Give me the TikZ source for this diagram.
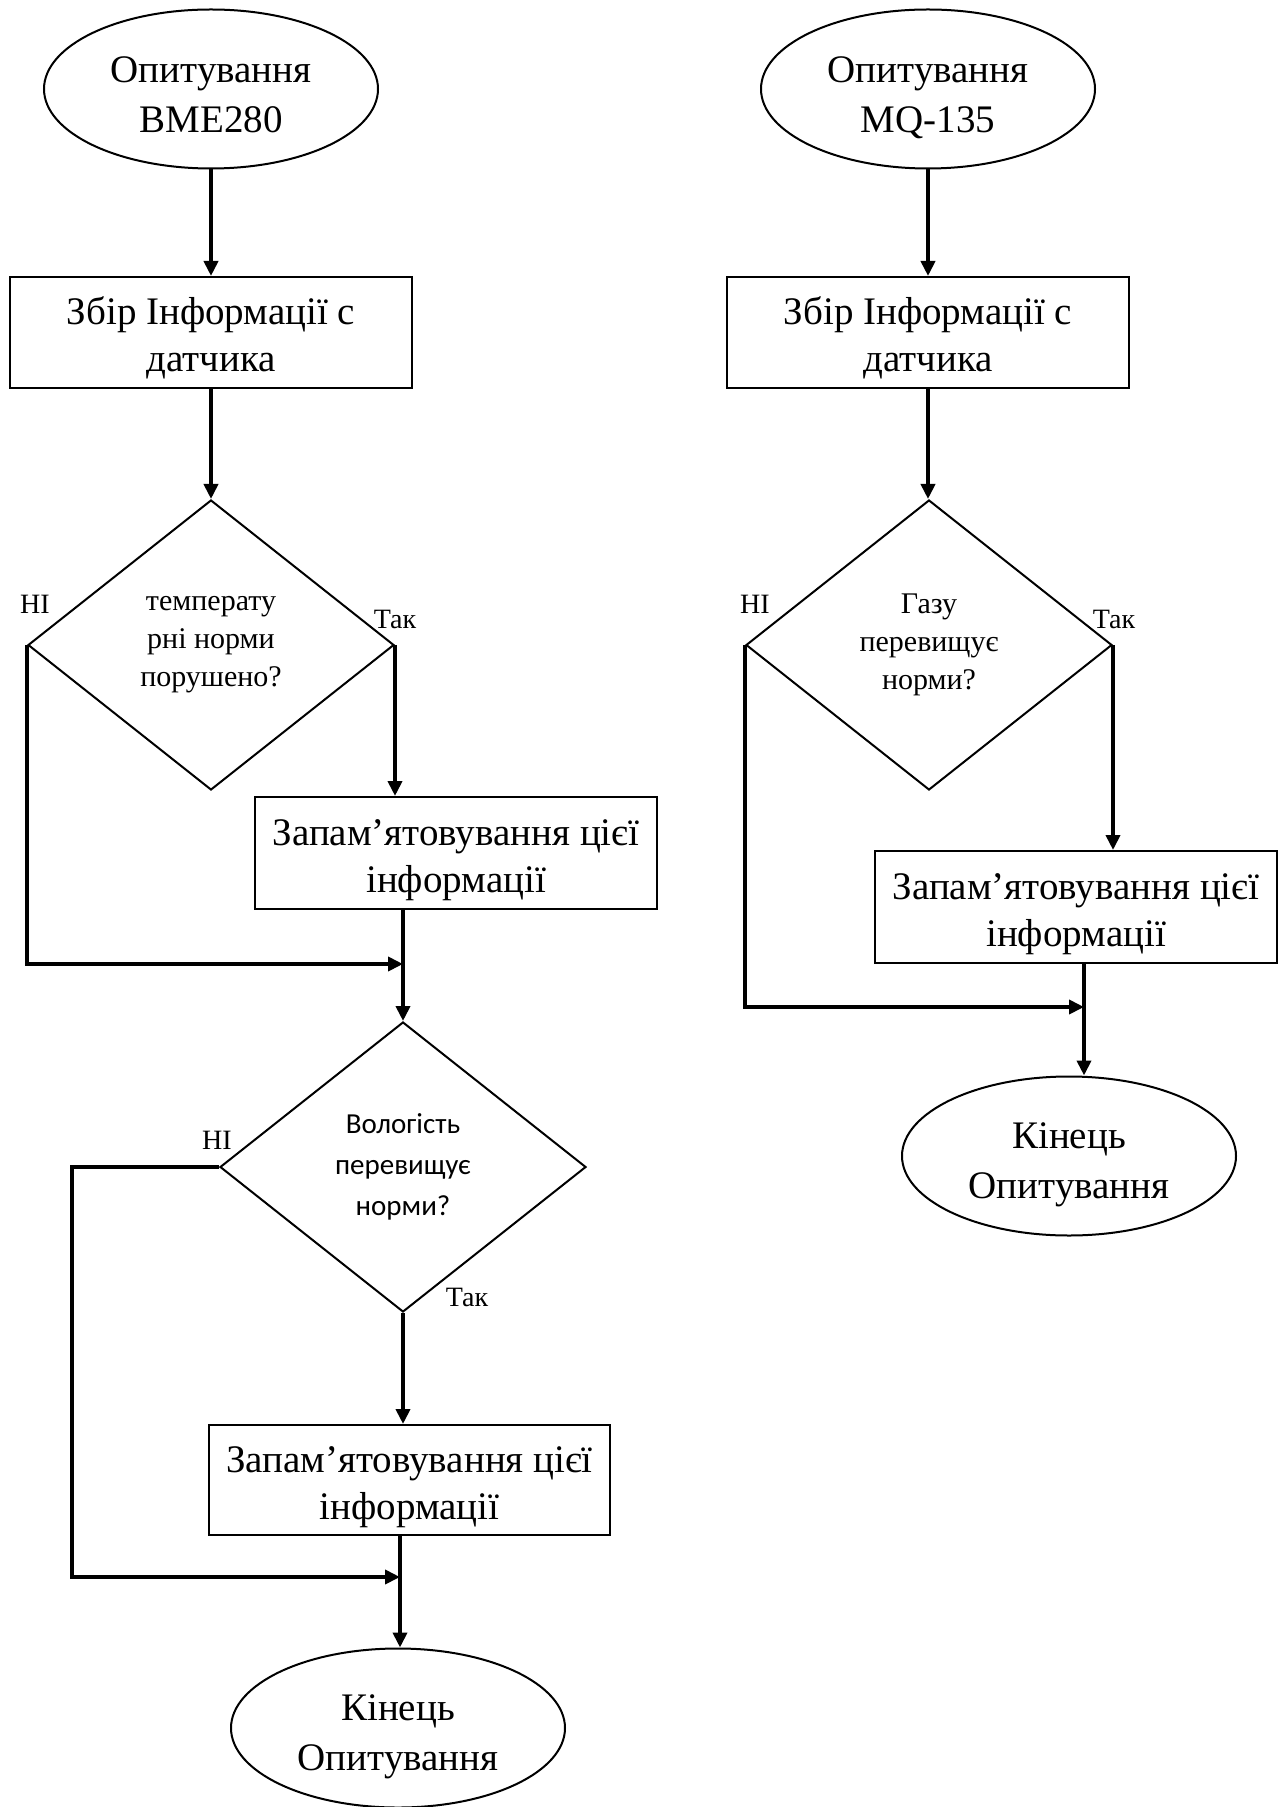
\documentclass[tikz,border=0pt]{standalone}
\usepackage{fontspec}
\setmainfont{Liberation Serif}
\newfontfamily\sansf{Carlito}
\usetikzlibrary{shapes.geometric,arrows.meta}
\newcommand\etop{\rule{0pt}{22pt}}
\newcommand\ebot{\rule[-3pt]{0pt}{3pt}}
\newcommand\btop{\rule{0pt}{21pt}}
\newcommand\bbot{\rule[-5pt]{0pt}{5pt}}
\begin{document}
\begin{tikzpicture}[x=0.5pt,y=-0.5pt,
  term/.style={ellipse,draw,line width=1pt,minimum width=167pt,minimum height=79.5pt,inner sep=0pt,align=center,font=\fontsize{19.5}{25}\selectfont},
  proc/.style={rectangle,draw,line width=1pt,minimum width=201pt,minimum height=55.5pt,inner sep=0pt,align=center,font=\fontsize{19.5}{23.5}\selectfont},
  dec/.style={diamond,draw,line width=1pt,minimum width=183pt,minimum height=145pt,inner sep=0pt,align=center,font=\fontsize{15}{19}\selectfont},
  lbl/.style={font=\fontsize{14}{16}\selectfont,inner sep=0pt},
  flow/.style={line width=2pt,-{Triangle[length=7.5pt,width=7pt]}}
]
\useasboundingbox (0,0) rectangle (1283,1807);

% left column
\node[term] (e1) at (211,89) {\etop Опитування\\BME280\ebot};
\node[proc] (b1) at (211,332.5) {\btop Збір Інформації с\\датчика\bbot};
\node[dec] (d1) at (211,645) {температу\\рні норми\\порушено?};
\node[proc,minimum height=56pt] (b2) at (456,853) {\btop Запам’ятовування цієї\\інформації\bbot};
\node[dec,font=\sansf\fontsize{14.5}{20.5}\selectfont] (d2) at (403,1167) {Вологість\\перевищує\\норми?};
\node[proc,minimum width=200.5pt,minimum height=55pt] (b3) at (409.5,1480) {\btop Запам’ятовування цієї\\інформації\bbot};
\node[term] (e3) at (398,1728) {\etop Кінець\\Опитування\ebot};
\coordinate (j1) at (403,964);
\coordinate (j2) at (400,1577);

\node[lbl] (n1) at (35,604) {НІ};
\node[lbl] (y1) at (395,619) {Так};
\node[lbl] (n2) at (217,1140) {НІ};
\node[lbl] (y2) at (467,1297) {Так};

\draw[flow] (e1.south) -- (b1.north);
\draw[flow] (b1.south) -- (d1.north);
\draw[flow] (d1.east) -- (d1.east |- b2.north);
\draw[flow] (d1.west) |- (j1);
\draw[flow] (d2.north |- b2.south) -- (d2.north);
\draw[flow] (d2.south) -- (d2.south |- b3.north);
\draw[flow] (d2.west) -- ++(-147,0) |- (j2);
\draw[flow] (j2 |- b3.south) -- (j2 |- e3.north);

% right column
\node[term] (e2) at (928,89) {\etop Опитування\\MQ-135\ebot};
\node[proc] (b4) at (928,332.5) {\btop Збір Інформації с\\датчика\bbot};
\node[dec] (d3) at (929,645) {Газу\\перевищує\\норми?};
\node[proc,minimum height=56pt] (b5) at (1076,907) {\btop Запам’ятовування цієї\\інформації\bbot};
\node[term] (e4) at (1069,1156) {\etop Кінець\\Опитування\ebot};
\coordinate (j3) at (1084,1007);

\node[lbl] (n3) at (755,604) {НІ};
\node[lbl] (y3) at (1114,619) {Так};

\draw[flow] (e2.south) -- (b4.north);
\draw[flow] (b4.south) -- (b4.south |- d3.north);
\draw[flow] (d3.east) -- (d3.east |- b5.north);
\draw[flow] (d3.west) |- (j3);
\draw[flow] (j3 |- b5.south) -- (j3 |- e4.north);
\end{tikzpicture}
\end{document}
